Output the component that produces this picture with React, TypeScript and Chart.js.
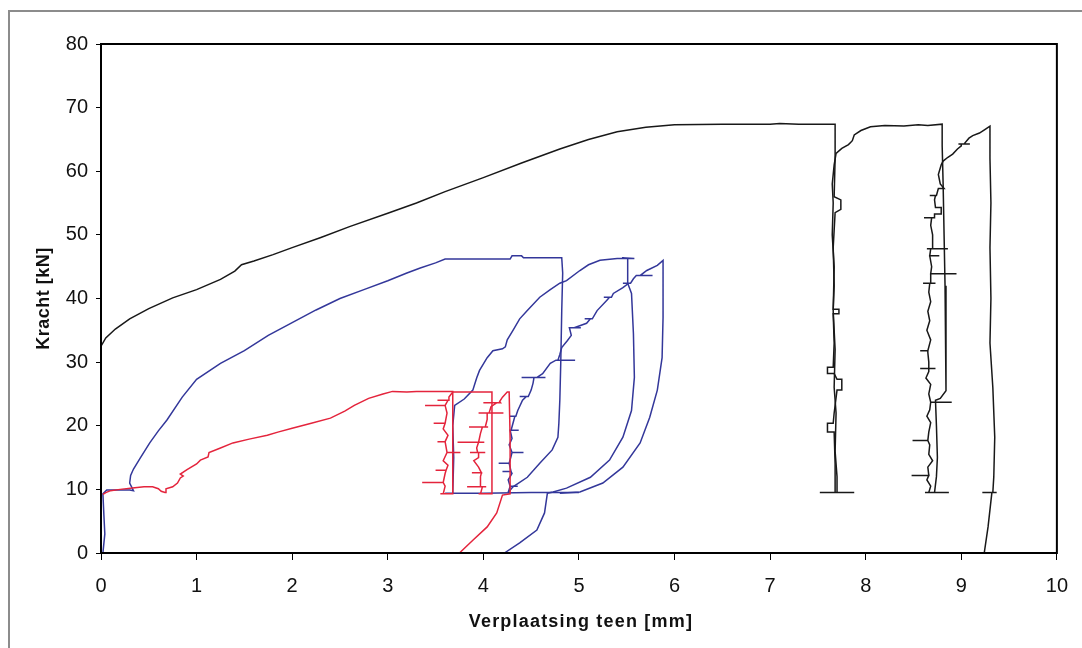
import React, { useEffect, useRef } from "react";
import { Chart, registerables } from "chart.js";

Chart.register(...registerables);

type P = [number, number];

// ---- axis / text ----
const xTitel = "Verplaatsing teen [mm]";
const yTitel = "Kracht [kN]";
const xMin = 0, xMax = 10, xStap = 1;
const yMin = 0, yMax = 80, yStap = 10;

// ---- black test ----
const zwartBelasting: P[] = [
  [0, 0], [0, 32.5], [0.05, 33.8], [0.15, 35.2], [0.3, 36.8], [0.5, 38.4], [0.75, 40.1], [1.0, 41.4],
  [1.25, 43.0], [1.4, 44.3], [1.47, 45.3], [1.6, 45.9], [1.8, 46.9], [2.0, 48.0], [2.3, 49.6], [2.6, 51.3],
  [3.0, 53.4], [3.3, 55.0], [3.6, 56.8], [4.0, 59.0], [4.4, 61.3], [4.8, 63.5], [5.1, 65.0], [5.4, 66.2],
  [5.7, 66.9], [6.0, 67.3], [6.5, 67.4], [7.0, 67.4], [7.1, 67.5], [7.3, 67.4], [7.68, 67.4],
  [7.68, 62], [7.67, 56], [7.74, 55.5], [7.74, 54], [7.68, 53.5], [7.66, 48], [7.67, 42], [7.66, 38.3],
  [7.72, 38.3], [7.72, 37.6], [7.66, 37.6], [7.67, 33], [7.66, 29.2], [7.6, 29.2], [7.6, 28.2], [7.67, 28.2],
  [7.7, 27.3], [7.75, 27.3], [7.75, 25.6], [7.7, 25.6], [7.67, 22], [7.66, 20.4], [7.6, 20.4], [7.6, 19],
  [7.67, 19], [7.68, 14], [7.68, 9.5], [7.52, 9.5], [7.88, 9.5], [7.7, 9.5],
];
const zwartHerbelasting1: P[] = [
  [7.7, 9.5], [7.7, 12], [7.68, 16], [7.69, 22], [7.67, 26], [7.68, 32], [7.66, 38], [7.67, 45], [7.65, 50],
  [7.66, 55], [7.65, 58], [7.67, 61], [7.69, 62.8], [7.75, 63.6], [7.82, 64.2], [7.86, 64.8], [7.88, 65.7],
  [7.95, 66.4], [8.05, 67.0], [8.2, 67.2], [8.4, 67.1], [8.55, 67.3], [8.65, 67.2], [8.8, 67.4],
  [8.8, 64], [8.81, 58], [8.82, 50], [8.83, 42], [8.84, 35], [8.84, 25.5], [8.78, 24.3], [8.73, 24],
  [8.74, 20], [8.75, 15], [8.74, 12], [8.72, 9.5], [8.62, 9.5], [8.87, 9.5], [8.66, 9.5],
];
const zwartHerbelasting2: P[] = [
  [8.66, 9.5], [8.68, 10.5], [8.64, 11.5], [8.66, 12.2], [8.48, 12.2], [8.66, 12.2], [8.65, 13.5], [8.7, 14.5],
  [8.66, 15.5], [8.67, 17], [8.65, 17.7], [8.49, 17.7], [8.65, 17.7], [8.66, 19], [8.68, 20.5], [8.64, 21.5],
  [8.67, 22.5], [8.68, 23.7], [8.9, 23.7], [8.68, 23.7], [8.66, 25], [8.68, 26.5], [8.63, 27.5], [8.66, 28.5],
  [8.66, 29], [8.57, 29], [8.73, 29], [8.66, 29], [8.66, 30], [8.65, 31.5], [8.65, 31.8], [8.57, 31.8],
  [8.65, 31.8], [8.68, 33.5], [8.64, 35], [8.67, 36.5], [8.65, 38], [8.68, 39.5], [8.66, 41], [8.67, 42.4],
  [8.6, 42.4], [8.73, 42.4], [8.68, 42.4], [8.68, 43.9], [8.95, 43.9], [8.68, 43.9], [8.69, 45], [8.67, 46.7],
  [8.77, 46.7], [8.67, 46.7], [8.68, 47.8], [8.64, 47.8], [8.86, 47.8], [8.7, 47.8], [8.7, 50], [8.68, 51.5],
  [8.69, 52.7], [8.61, 52.7], [8.72, 52.7], [8.72, 53.3], [8.79, 53.3], [8.79, 54.3], [8.73, 54.3], [8.72, 55.5],
  [8.73, 56.2], [8.67, 56.2], [8.74, 56.2], [8.76, 57.3], [8.82, 57.3], [8.78, 58], [8.76, 59.5], [8.79, 61],
  [8.81, 61.6], [8.86, 62.2], [8.91, 62.7], [8.96, 63.5], [9.0, 64.0], [9.0, 64.3], [8.97, 64.3], [9.09, 64.3],
  [9.03, 64.3], [9.08, 65.2], [9.12, 65.6], [9.19, 66.0], [9.25, 66.6], [9.3, 67.1],
  [9.3, 62], [9.31, 55], [9.3, 48], [9.31, 40], [9.3, 33], [9.33, 26], [9.35, 18.2], [9.34, 12], [9.33, 9.5],
  [9.22, 9.5], [9.37, 9.5], [9.32, 9.5], [9.28, 4.1], [9.24, 0],
];

// ---- blue test ----
const blauwBelasting: P[] = [
  [0.02, 0], [0.04, 3], [0.03, 6], [0.02, 9.3], [0.06, 9.9], [0.2, 9.9], [0.3, 9.9], [0.34, 9.8], [0.3, 11.0],
  [0.31, 12.2], [0.34, 13.2], [0.41, 14.9], [0.51, 17.3], [0.6, 19.2], [0.69, 20.9], [0.85, 24.5], [1.0, 27.3],
  [1.25, 29.8], [1.5, 31.8], [1.75, 34.2], [2.0, 36.2], [2.25, 38.2], [2.5, 40.0], [2.75, 41.4], [3.0, 42.8],
  [3.2, 44.0], [3.34, 44.8], [3.5, 45.6], [3.6, 46.2], [3.9, 46.2], [4.28, 46.2], [4.3, 46.7], [4.4, 46.7],
  [4.42, 46.4], [4.82, 46.4],
  [4.83, 44], [4.82, 38], [4.81, 30], [4.8, 24], [4.79, 20.4], [4.78, 18.2], [4.72, 16.2], [4.59, 14.1],
  [4.46, 11.9], [4.31, 10.4], [4.26, 9.5],
];
const blauwHerbelasting1: P[] = [
  [4.26, 9.5], [4.28, 10.5], [4.36, 10.5], [4.28, 10.5], [4.26, 11.5], [4.3, 12.5], [4.29, 12.8], [4.2, 12.8],
  [4.29, 12.8], [4.27, 14.1], [4.16, 14.1], [4.27, 14.1], [4.29, 15.2], [4.3, 15.8], [4.42, 15.8], [4.3, 15.8],
  [4.27, 17], [4.3, 18], [4.28, 19.3], [4.37, 19.3], [4.29, 19.3], [4.31, 20.4], [4.33, 21.5], [4.27, 21.5],
  [4.34, 21.5], [4.36, 22.4], [4.41, 24.0], [4.45, 24.6], [4.38, 24.6], [4.47, 24.6], [4.5, 25.6], [4.52, 26.7],
  [4.53, 27.6], [4.4, 27.6], [4.65, 27.6], [4.56, 27.6], [4.62, 28.2], [4.7, 29.8], [4.76, 30.3], [4.96, 30.3],
  [4.78, 30.3], [4.8, 31.2], [4.82, 32.3], [4.88, 33.4], [4.92, 34.2], [4.9, 35.4], [5.02, 35.4], [4.95, 35.4],
  [5.08, 36.1], [5.12, 36.8], [5.06, 36.8], [5.14, 36.8], [5.19, 38.1], [5.29, 39.7], [5.32, 40.2], [5.26, 40.2],
  [5.34, 40.2], [5.36, 40.8], [5.46, 41.7], [5.52, 42.4], [5.46, 42.4], [5.54, 42.4], [5.57, 43.1], [5.6, 43.6],
  [5.77, 43.6], [5.64, 43.6], [5.71, 44.4], [5.82, 45.2], [5.88, 46.0],
  [5.88, 42], [5.88, 37], [5.87, 30.7], [5.82, 25.6], [5.74, 21.3], [5.64, 17.3], [5.46, 13.5], [5.25, 11.0],
  [5.01, 9.6], [4.8, 9.4],
];
const blauwHerbelasting2: P[] = [
  [3.68, 9.4], [3.69, 15], [3.68, 20], [3.7, 23.2], [3.8, 24.2], [3.89, 25.6], [3.93, 27.5], [3.96, 28.7],
  [4.04, 30.7], [4.1, 31.8], [4.2, 32.1], [4.23, 32.4], [4.25, 33.5], [4.31, 35.0], [4.38, 36.8], [4.46, 38.1],
  [4.59, 40.2], [4.7, 41.4], [4.8, 42.4], [4.87, 42.8], [5.01, 44.4], [5.1, 45.3], [5.22, 46.0], [5.4, 46.3],
  [5.58, 46.3], [5.45, 46.4], [5.51, 46.3],
  [5.51, 42.4], [5.55, 40.8], [5.57, 34.5], [5.58, 27.6], [5.55, 22.4], [5.46, 18.2], [5.32, 14.6], [5.12, 11.9],
  [4.87, 10.2], [4.73, 9.6], [4.67, 9.4], [4.64, 6.3], [4.56, 3.6], [4.38, 1.6], [4.22, 0],
];
const blauwBasis: P[] = [[3.6, 9.4], [4.0, 9.4], [4.5, 9.5], [5.0, 9.5]];

// ---- red test ----
const roodBelasting: P[] = [
  [0.02, 9.2], [0.05, 9.5], [0.1, 9.8], [0.2, 10.0], [0.33, 10.2], [0.45, 10.4], [0.54, 10.4], [0.6, 10.1],
  [0.63, 9.7], [0.67, 9.5], [0.68, 10.1], [0.75, 10.4], [0.8, 11.0], [0.83, 11.8], [0.86, 12.1], [0.83, 12.4],
  [0.9, 13.1], [1.0, 14.0], [1.04, 14.6], [1.12, 15.1], [1.13, 15.8], [1.25, 16.5], [1.38, 17.3], [1.55, 17.9],
  [1.74, 18.5], [1.85, 19.0], [2.0, 19.6], [2.2, 20.4], [2.4, 21.2], [2.55, 22.3], [2.65, 23.2], [2.8, 24.3],
  [2.95, 25.0], [3.05, 25.4], [3.2, 25.3], [3.3, 25.4], [3.5, 25.4], [3.68, 25.4], [3.68, 18], [3.68, 9.3],
  [3.55, 9.3],
];
const roodHerbelasting1: P[] = [
  [3.58, 9.3], [3.6, 10.5], [3.58, 11.1], [3.36, 11.1], [3.58, 11.1], [3.6, 12.5], [3.61, 13.0], [3.5, 13.0],
  [3.61, 13.0], [3.63, 13.8], [3.58, 14.5], [3.62, 15.8], [3.76, 15.8], [3.62, 15.8], [3.6, 17.5], [3.52, 17.5],
  [3.6, 17.5], [3.63, 18.5], [3.58, 19.5], [3.6, 20.4], [3.48, 20.4], [3.6, 20.4], [3.62, 22], [3.6, 23.2],
  [3.39, 23.2], [3.6, 23.2], [3.63, 24.0], [3.52, 24.0], [3.64, 24.0], [3.64, 24.5], [3.68, 25.3], [3.85, 25.3],
  [4.09, 25.3], [4.09, 18], [4.09, 9.3], [3.95, 9.3],
];
const roodHerbelasting2: P[] = [
  [3.97, 9.3], [3.99, 10.4], [3.83, 10.4], [4.03, 10.4], [3.97, 10.4], [3.97, 12], [3.98, 12.6], [3.88, 12.6],
  [3.98, 12.6], [3.95, 13.5], [3.9, 14.5], [3.95, 15], [3.95, 15.8], [3.86, 15.8], [4.02, 15.8], [3.94, 15.8],
  [3.93, 16.5], [3.95, 17.4], [3.73, 17.4], [4.01, 17.4], [3.95, 17.4], [3.97, 18.8], [3.99, 19.8], [3.85, 19.8],
  [4.05, 19.8], [4.02, 19.8], [4.04, 21], [4.04, 22], [3.95, 22], [4.21, 22], [4.06, 22], [4.08, 23],
  [4.14, 23.6], [4.0, 23.6], [4.18, 23.6], [4.17, 23.8], [4.2, 24.5], [4.25, 25.3], [4.27, 25.3], [4.28, 18],
  [4.28, 9.3], [4.2, 9.1], [4.14, 6.3], [4.04, 4.1], [3.89, 2.0], [3.75, 0],
];

const ROOD = "#e4243c";
const BLAUW = "#33379a";
const ZWART = "#181818";
const FONT = '"Liberation Sans", Arial, Helvetica, sans-serif';

const series: { naam: string; punten: P[]; kleur: string }[] = [
  { naam: "rood 1", punten: roodBelasting, kleur: ROOD },
  { naam: "rood 2", punten: roodHerbelasting1, kleur: ROOD },
  { naam: "rood 3", punten: roodHerbelasting2, kleur: ROOD },
  { naam: "blauw 1", punten: blauwBelasting, kleur: BLAUW },
  { naam: "blauw 2", punten: blauwHerbelasting1, kleur: BLAUW },
  { naam: "blauw 3", punten: blauwHerbelasting2, kleur: BLAUW },
  { naam: "blauw basis", punten: blauwBasis, kleur: BLAUW },
  { naam: "zwart 1", punten: zwartBelasting, kleur: ZWART },
  { naam: "zwart 2", punten: zwartHerbelasting1, kleur: ZWART },
  { naam: "zwart 3", punten: zwartHerbelasting2, kleur: ZWART },
];

const kaderPlugin = {
  id: "kader",
  afterDraw(chart: any) {
    const { ctx, chartArea: a } = chart;
    ctx.save();
    ctx.strokeStyle = "#000";
    ctx.lineWidth = 2;
    ctx.strokeRect(a.left, a.top, a.right - a.left, a.bottom - a.top);
    ctx.fillStyle = "#111";
    ctx.textAlign = "center";
    ctx.textBaseline = "alphabetic";
    ctx.font = `bold 18px ${FONT}`;
    (ctx as any).letterSpacing = "1.2px";
    ctx.fillText(xTitel, (a.left + a.right) / 2 + 2, 627);
    (ctx as any).letterSpacing = "0.5px";
    ctx.translate(49, (a.top + a.bottom) / 2);
    ctx.rotate(-Math.PI / 2);
    ctx.fillText(yTitel, 0, 0);
    ctx.restore();
  },
};

export default function App() {
  const ref = useRef<HTMLCanvasElement | null>(null);
  useEffect(() => {
    if (!ref.current) return;
    const chart = new Chart(ref.current, {
      type: "scatter",
      data: {
        datasets: series.map((s) => ({
          label: s.naam,
          data: s.punten.map(([x, y]) => ({ x, y })),
          showLine: true,
          borderColor: s.kleur,
          backgroundColor: s.kleur,
          borderWidth: 1.5,
          pointRadius: 0,
          pointHoverRadius: 0,
          tension: 0,
          fill: false,
        })),
      },
      options: {
        animation: false,
        responsive: false,
        devicePixelRatio: 1,
        layout: { padding: { left: 0, right: 24, top: 44, bottom: 0 } },
        plugins: { legend: { display: false }, tooltip: { enabled: false } },
        scales: {
          x: {
            type: "linear",
            min: xMin,
            max: xMax,
            ticks: { stepSize: xStap, font: { family: FONT, size: 20 }, color: "#111", padding: 14 },
            grid: { drawOnChartArea: false, drawTicks: true, tickLength: 7, color: "#000", lineWidth: 1 },
            border: { display: true, color: "#000", width: 2 },
            afterFit: (s: any) => { s.height = 95; },
          },
          y: {
            type: "linear",
            min: yMin,
            max: yMax,
            ticks: { stepSize: yStap, font: { family: FONT, size: 20 }, color: "#111", padding: 8 },
            grid: { drawOnChartArea: false, drawTicks: true, tickLength: 5, color: "#000", lineWidth: 1 },
            border: { display: true, color: "#000", width: 2 },
            afterFit: (s: any) => { s.width = 101; },
          },
        },
      },
      plugins: [kaderPlugin],
    });
    return () => chart.destroy();
  }, []);

  return (
    <div style={{ position: "fixed", left: 0, top: 0, width: 1082, height: 648, background: "#fff", overflow: "hidden" }}>
      <div
        style={{
          position: "absolute",
          left: 8,
          top: 10,
          width: 1090,
          height: 700,
          borderLeft: "2px solid #8c8c8c",
          borderTop: "2px solid #8c8c8c",
        }}
      />
      <canvas ref={ref} width={1082} height={648} style={{ position: "absolute", left: 0, top: 0, display: "block" }} />
    </div>
  );
}
